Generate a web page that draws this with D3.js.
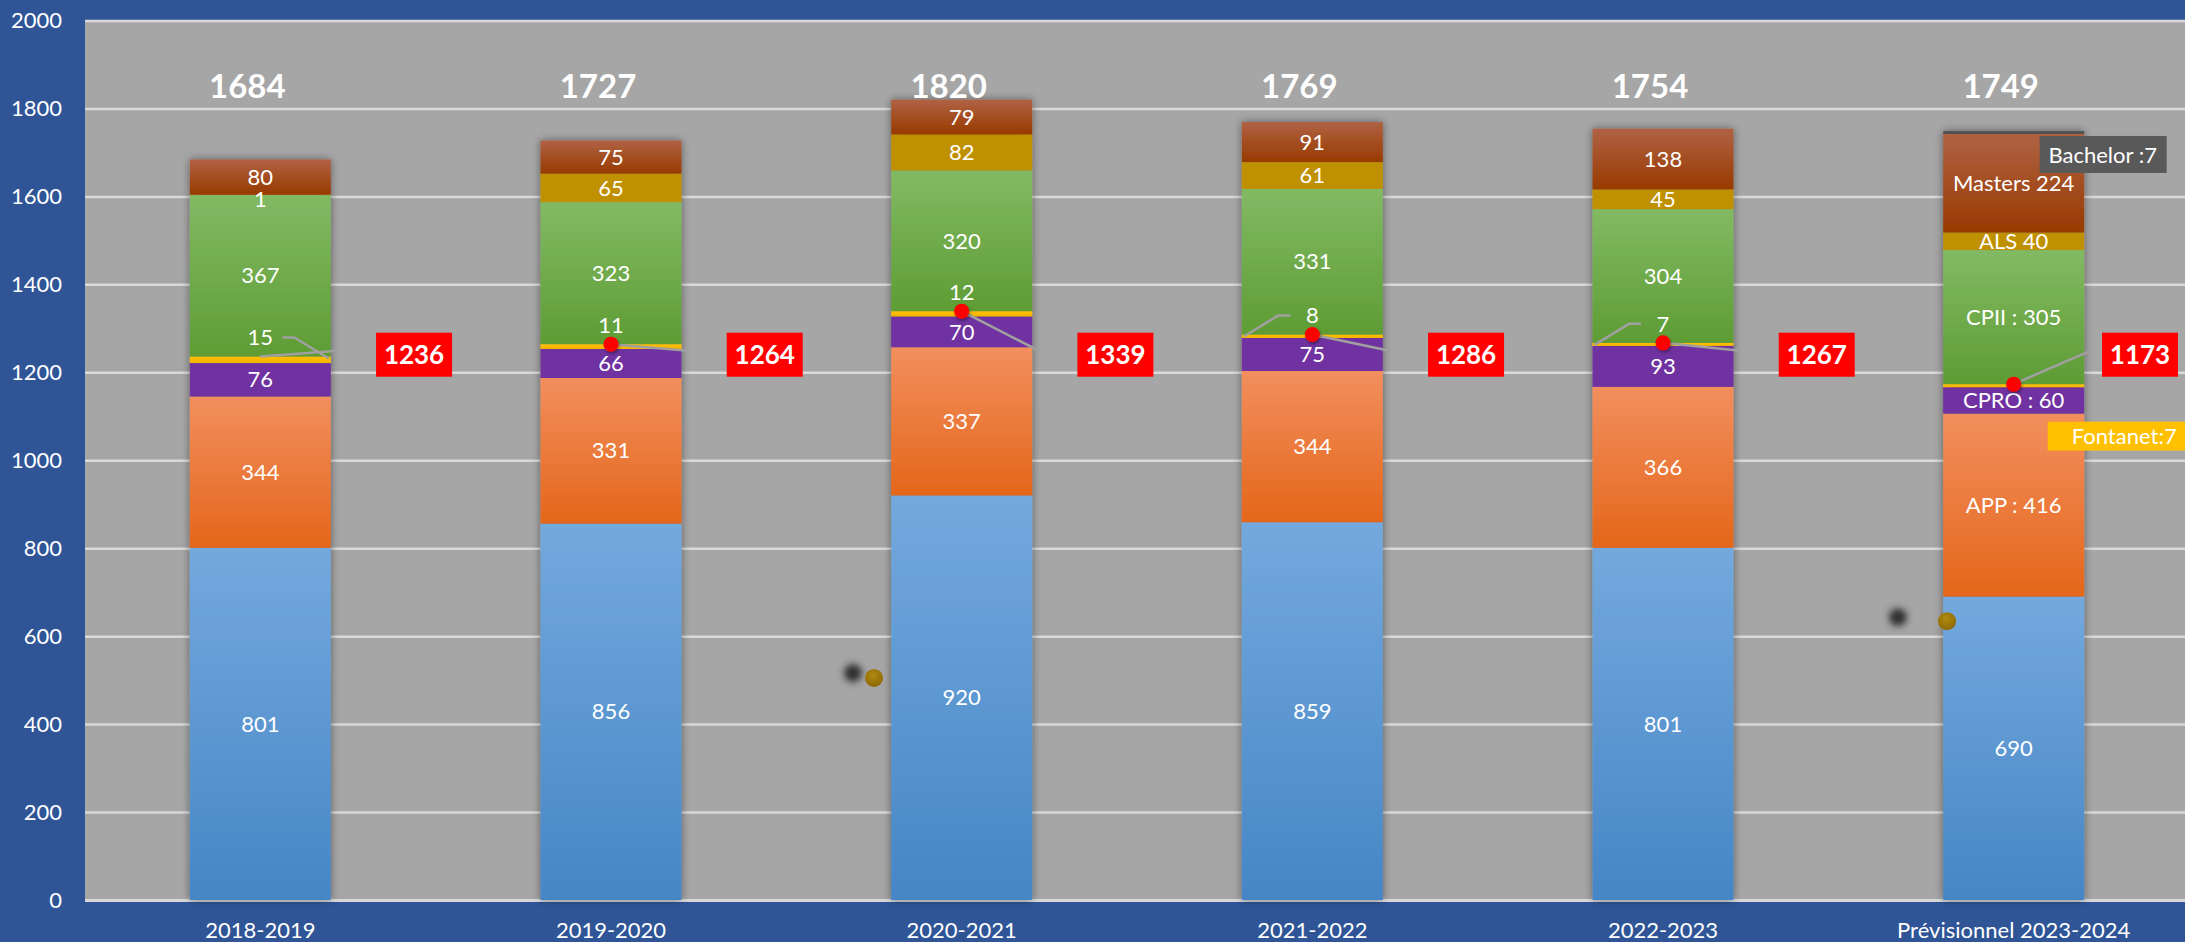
<!DOCTYPE html>
<html lang="fr">
<head>
<meta charset="UTF-8">
<title>Effectifs</title>
<script src="https://cdn.jsdelivr.net/npm/d3@7/dist/d3.min.js"></script>
<style>
  body { margin: 0; background: #2F5597; }
  svg { display: block; }
  text { font-family: Lato, "Open Sans", sans-serif; fill: #fff; }
</style>
</head>
<body>
<svg width="2185" height="942"></svg>
<script>
// données
var annees = ["2018-2019", "2019-2020", "2020-2021", "2021-2022", "2022-2023", "Prévisionnel 2023-2024"];
var series = ["Initial", "APP", "CPRO", "Fontanet", "CPII", "ALS", "Masters", "Bachelor"];
var initial  = [801, 856, 920, 859, 801, 690];
var app      = [344, 331, 337, 344, 366, 416];
var cpro     = [76, 66, 70, 75, 93, 60];
var fontanet = [15, 11, 12, 8, 7, 7];
var cpii     = [367, 323, 320, 331, 304, 305];
var als      = [1, 65, 82, 61, 45, 40];
var masters  = [80, 75, 79, 91, 138, 224];
var bachelor = [0, 0, 0, 0, 0, 7];
var totaux     = [1684, 1727, 1820, 1769, 1754, 1749];
var sousTotaux = [1236, 1264, 1339, 1286, 1267, 1173];
var avecPoint  = [false, true, true, true, true, true];
var yTicks = [0, 200, 400, 600, 800, 1000, 1200, 1400, 1600, 1800, 2000];
// libellés de la dernière colonne
var prefixes = ["", "APP : ", "CPRO : ", "Fontanet:", "CPII : ", "ALS ", "Masters ", "Bachelor :"];
// points isolés (position en index de colonne, valeur)
var pointsX = [1.69, 1.75, 4.67, 4.81];
var pointsY = [516, 505, 643, 634];
var pointsType = ["ombre", "or", "ombre", "or"];

var couleurs = {
    Initial:  ["#73A9DD", "#4686C6"],
    APP:      ["#F28F5E", "#E4661A"],
    CPRO:     ["#7030A0", "#7030A0"],
    Fontanet: ["#FFC000", "#F2B300"],
    CPII:     ["#82BA64", "#5E9C34"],
    ALS:      ["#BF9000", "#BF9000"],
    Masters:  ["#B06244", "#983A00"],
    Bachelor: ["#5A5A5A", "#4A4A4A"]
};

var valeurs = [initial, app, cpro, fontanet, cpii, als, masters, bachelor];
var table = annees.map(function (a, i) {
    var o = {annee: a, i: i};
    series.forEach(function (s, k) { o[s] = valeurs[k][i]; });
    return o;
});
var pile = d3.stack().keys(series)(table);

var width = 2185, height = 942;
var plot = {left: 85, right: 2189, top: 20, bottom: 900};
var taille = 22;

var svg = d3.select("svg");
var defs = svg.append("defs");

series.forEach(function (s) {
    var g = defs.append("linearGradient").attr("id", "grad-" + s)
        .attr("x1", 0).attr("y1", 0).attr("x2", 0).attr("y2", 1);
    g.append("stop").attr("offset", "0%").attr("stop-color", couleurs[s][0]);
    g.append("stop").attr("offset", "100%").attr("stop-color", couleurs[s][1]);
});
var ombre = defs.append("filter").attr("id", "ombre")
    .attr("x", "-20%").attr("y", "-5%").attr("width", "140%").attr("height", "110%");
ombre.append("feDropShadow").attr("dx", 0).attr("dy", 0).attr("stdDeviation", 4)
    .attr("flood-color", "#000").attr("flood-opacity", 0.45);
var flou = defs.append("filter").attr("id", "flou")
    .attr("x", "-100%").attr("y", "-100%").attr("width", "300%").attr("height", "300%");
flou.append("feGaussianBlur").attr("stdDeviation", 3.5);
var pointOmbre = defs.append("filter").attr("id", "pointOmbre")
    .attr("x", "-100%").attr("y", "-100%").attr("width", "300%").attr("height", "300%");
pointOmbre.append("feDropShadow").attr("dx", 1).attr("dy", 2).attr("stdDeviation", 1.5)
    .attr("flood-color", "#000").attr("flood-opacity", 0.4);
var gOr = defs.append("radialGradient").attr("id", "grad-or").attr("cx", "45%").attr("cy", "35%").attr("r", "65%");
gOr.append("stop").attr("offset", "0%").attr("stop-color", "#B08A12");
gOr.append("stop").attr("offset", "100%").attr("stop-color", "#8E6900");

// fond
svg.append("rect").attr("width", width).attr("height", height).attr("fill", "#2F5597");
svg.append("rect").attr("x", plot.left).attr("y", plot.top)
    .attr("width", width - plot.left).attr("height", plot.bottom - plot.top + 1)
    .attr("fill", "#A6A6A6");

// echelles
var x = d3.scaleBand().domain(annees).range([plot.left, plot.right]).padding(0);
var y = d3.scaleLinear().domain([0, 2000]).range([plot.bottom, plot.top + 0.5]);
var barW = x.bandwidth() * 0.402;
function cx(a) { return x(a) + x.bandwidth() / 2; }
var xi = d3.scaleLinear().domain([0, annees.length - 1]).range([cx(annees[0]), cx(annees[annees.length - 1])]);

// grille
var yAxis = d3.axisLeft(y).tickValues(yTicks).tickSize(-(width - plot.left)).tickFormat(d3.format("d"));
var gy = svg.append("g").attr("transform", "translate(" + plot.left + ",0)").call(yAxis);
gy.select(".domain").remove();
gy.selectAll(".tick line").attr("stroke", "#D9D9D9").attr("stroke-width", function (d) { return d === 0 ? 3 : 2.5; });
gy.selectAll(".tick text").attr("x", -23).attr("font-size", taille).attr("fill", "#fff")
    .style("font-family", "Lato, sans-serif");

// axe x
var xAxis = d3.axisBottom(x).tickSize(0);
var gx = svg.append("g").attr("transform", "translate(0," + plot.bottom + ")").call(xAxis);
gx.select(".domain").remove();
gx.selectAll(".tick text").attr("y", 22).attr("dy", "0.71em").attr("font-size", taille).attr("fill", "#fff")
    .style("font-family", "Lato, sans-serif");

// barres empilées
var gBarres = svg.append("g");
var colonnes = gBarres.selectAll("g.col").data(table).enter().append("g")
    .attr("class", "col").attr("filter", "url(#ombre)");
colonnes.each(function (d) {
    var g = d3.select(this);
    pile.forEach(function (couche) {
        var seg = couche[d.i];
        if (seg[1] - seg[0] <= 0) return;
        g.append("rect")
            .attr("x", cx(d.annee) - barW / 2)
            .attr("width", barW)
            .attr("y", y(seg[1]))
            .attr("height", y(seg[0]) - y(seg[1]))
            .attr("fill", "url(#grad-" + couche.key + ")");
    });
});

// étiquettes des segments
var dernier = annees.length - 1;
var gEtiq = svg.append("g");
pile.forEach(function (couche, k) {
    couche.forEach(function (seg, i) {
        var v = seg[1] - seg[0];
        var s = couche.key;
        if (v <= 0) return;
        if (s === "Bachelor") return;
        if (s === "Fontanet") {
            if (i === dernier) return;
            var yl = y(seg[1]) - 19;
            gEtiq.append("text").attr("x", cx(annees[i])).attr("y", yl).attr("dy", "0.35em")
                .attr("text-anchor", "middle").attr("font-size", taille).text(v);
            return;
        }
        var txt = i === dernier ? prefixes[k] + v : String(v);
        var ym = (y(seg[0]) + y(seg[1])) / 2 + (v < 5 ? 4 : 0);
        gEtiq.append("text").attr("x", cx(annees[i])).attr("y", ym)
            .attr("dy", "0.35em").attr("text-anchor", "middle").attr("font-size", taille).text(txt);
    });
});

// lignes de rappel pour Fontanet
var coucheF = pile[series.indexOf("Fontanet")];
var gRappel = svg.append("g").attr("fill", "none").attr("stroke", "#A0A0A0").attr("stroke-width", 2.5);
[0, 3, 4].forEach(function (i) {
    var c = cx(annees[i]);
    var yt = y(coucheF[i][1]);
    var yl = yt - 19;
    var sens = i === 0 ? 1 : -1;
    var p = d3.path();
    p.moveTo(c + sens * 22, yl);
    p.lineTo(c + sens * 34, yl);
    p.lineTo(c + sens * (barW / 2 - 2), yt + 2);
    gRappel.append("path").attr("d", p.toString());
});

// niveau commun des étiquettes rouges
var niveauEtiquette = 1240;
var yBoite = y(niveauEtiquette);
var boiteW = 76;
function gaucheBoite(i) {
    return Math.min(cx(annees[i]) + 0.33 * x.bandwidth(), width - boiteW - 7);
}

// lignes vers les étiquettes rouges
sousTotaux.forEach(function (v, i) {
    var c = cx(annees[i]);
    gRappel.append("line").attr("x1", c).attr("y1", y(v))
        .attr("x2", c + 0.22 * x.bandwidth()).attr("y2", yBoite - 4);
});

// points rouges
var gPoints = svg.append("g");
sousTotaux.forEach(function (v, i) {
    if (!avecPoint[i]) return;
    gPoints.append("circle").attr("cx", cx(annees[i])).attr("cy", y(v)).attr("r", 7.5)
        .attr("fill", "#FF0000").attr("filter", "url(#pointOmbre)");
});

// étiquettes rouges
var gRouge = svg.append("g");
sousTotaux.forEach(function (v, i) {
    var left = gaucheBoite(i);
    gRouge.append("rect").attr("x", left).attr("y", yBoite - 22).attr("width", boiteW).attr("height", 44)
        .attr("fill", "#FF0000");
    gRouge.append("text").attr("x", left + boiteW / 2).attr("y", yBoite).attr("dy", "0.36em")
        .attr("text-anchor", "middle").attr("font-size", 26).attr("font-weight", "bold").text(v);
});

// totaux
var gTot = svg.append("g");
totaux.forEach(function (v, i) {
    gTot.append("text").attr("x", cx(annees[i]) - 13).attr("y", y(1850)).attr("dy", "0.36em")
        .attr("text-anchor", "middle").attr("font-size", 33).attr("font-weight", "bold").text(v);
});

// encadrés de la dernière colonne
var cD = cx(annees[dernier]);
var bachY = y(pile[series.indexOf("Masters")][dernier][1]);
svg.append("rect").attr("x", cD + 26).attr("y", bachY + 2).attr("width", 127).attr("height", 37).attr("fill", "#595959");
svg.append("text").attr("x", cD + 89).attr("y", bachY + 21).attr("dy", "0.35em").attr("text-anchor", "middle")
    .attr("font-size", taille).text(prefixes[series.indexOf("Bachelor")] + bachelor[dernier]);
var fonY = y(pile[series.indexOf("CPRO")][dernier][0]);
svg.append("rect").attr("x", cD + 34).attr("y", fonY + 8).attr("width", 150).attr("height", 29).attr("fill", "#FFC000");
svg.append("text").attr("x", cD + 163).attr("y", fonY + 23).attr("dy", "0.35em").attr("text-anchor", "end")
    .attr("font-size", taille).text(prefixes[series.indexOf("Fontanet")] + fontanet[dernier]);

// points isolés
pointsX.forEach(function (px, k) {
    var c = svg.append("circle").attr("cx", xi(px)).attr("cy", y(pointsY[k])).attr("r", 9);
    if (pointsType[k] === "ombre") c.attr("fill", "#2E2E2E").attr("filter", "url(#flou)");
    else c.attr("fill", "url(#grad-or)");
});
</script>
</body>
</html>
